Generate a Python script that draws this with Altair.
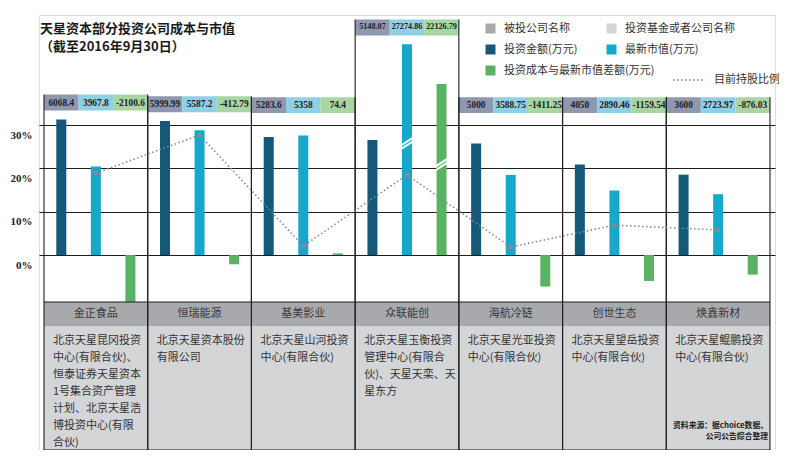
import altair as alt
import pandas as pd

# ---------------- data ----------------
companies = ["金正食品", "恒瑞能源", "基美影业", "众联能创", "海航冷链", "创世生态", "焕鑫新材"]
invest = [6068.4, 5999.99, 5283.6, 5148.07, 5000, 4050, 3600]
market = [3967.8, 5587.2, 5358, 27274.86, 3588.75, 2890.46, 2723.97]
diff = [-2100.6, -412.79, 74.4, 22126.79, -1411.25, -1159.54, -876.03]
holding = [18.9, 27.7, 2.1, 18.5, 1.85, 6.9, 5.8]
funds = [
    ["北京天星昆冈投资", "中心(有限合伙)、", "恒泰证券天星资本", "1号集合资产管理", "计划、北京天星浩", "博投资中心(有限", "合伙)"],
    ["北京天星资本股份", "有限公司"],
    ["北京天星山河投资", "中心(有限合伙)"],
    ["北京天星玉衡投资", "管理中心(有限合", "伙)、天星天栾、天", "星东方"],
    ["北京天星光亚投资", "中心(有限合伙)"],
    ["北京天星望岳投资", "中心(有限合伙)"],
    ["北京天星鲲鹏投资", "中心(有限合伙)"],
]
series_names = ["投资金额(万元)", "最新市值(万元)", "投资成本与最新市值差额(万元)"]
row_names = ["被投公司名称", "投资基金或者公司名称"]
line_name = "目前持股比例"
pct_ticks = [0, 10, 20, 30]
title_lines = ["天星资本部分投资公司成本与市值", "（截至2016年9月30日）"]
source_lines = ["资料来源：据choice数据、", "公司公告综合整理"]

# ---------------- layout / style ----------------
CJK = "Noto Sans CJK SC"
NUM = "Liberation Sans Narrow"
W, H = 736, 435
Y_TOP, Y_BOTTOM = 10750, -8730
PCT_UNIT = 194.0          # 万元 per 1 % on the shared axis
LIMIT, BREAK_K, BREAK_FRAC = 8000, 0.346, 0.53
BOX_BASE, BOX_H, BOX_GAP = 6356, 716, 400
HEADER_H = 1075
NCOL = len(companies)

bar_colors = ["#14587a", "#16a8cb", "#5ab365"]
box_colors = ["#8f98af", "#8fd0e5", "#a9d5a2"]
row_colors = ["#a8a9ad", "#d4d5d7"]

rows, cols = [], []
for i, c in enumerate(companies):
    vals = [invest[i], market[i], diff[i]]
    disp = [v if v <= LIMIT else v * BREAK_K for v in vals]
    bb = max(BOX_BASE, max(disp) + BOX_GAP)
    brk = any(v > LIMIT for v in vals)
    for j in range(3):
        rows.append(dict(company=c, series=series_names[j], j=j,
                         slot=3 * i + j + 0.5, x0=3 * i + j, x1=3 * i + j + 1,
                         value=vals[j], disp=disp[j], broken=vals[j] > LIMIT,
                         brk_y=disp[j] * BREAK_FRAC, zero=0,
                         label=str(vals[j]), bb=bb, bt=bb + BOX_H,
                         bm=bb + BOX_H / 2, small=brk))
    cols.append(dict(company=c, left=3 * i, right=3 * i + 3, center=3 * i + 1.5,
                     top=bb + BOX_H, fund="\n".join(funds[i]),
                     pct=holding[i] * PCT_UNIT, pslot=3 * i + 1.5,
                     lg1=row_names[0], lg2=row_names[1], s3=line_name))
df = pd.DataFrame(rows)
cdf = pd.DataFrame(cols)

chart_bottom = min(0, df["disp"].min())
header_bottom = chart_bottom - HEADER_H
cdf["hy1"] = chart_bottom
cdf["hy2"] = header_bottom
cdf["cy2"] = Y_BOTTOM
cdf["ybot"] = Y_BOTTOM
cdf["hmid"] = (chart_bottom + header_bottom) / 2

hl = pd.DataFrame(dict(y=[chart_bottom, Y_BOTTOM], xa=[0, 0], xb=[3 * NCOL, 3 * NCOL]))
src = pd.DataFrame(dict(x=[3 * NCOL], y=[Y_BOTTOM], t=["\n".join(source_lines)]))

XS = alt.Scale(domain=[0, 3 * NCOL], nice=False, zero=False)
YS = alt.Scale(domain=[Y_BOTTOM, Y_TOP], nice=False, zero=False)
Y_AX = alt.Axis(values=[v * PCT_UNIT for v in pct_ticks],
                labelExpr=f"format(datum.value/{PCT_UNIT}, 'd') + '%'",
                grid=True, gridColor="#1e1e1e", gridWidth=1.1,
                domain=False, ticks=False, title=None,
                labelFont=NUM, labelFontWeight="bold", labelFontSize=11,
                labelColor="#222", labelPadding=7, labelBaseline="middle", labelOffset=10)


def X(f):
    return alt.X(f, type="quantitative", scale=XS, axis=None)


def Y(f):
    return alt.Y(f, type="quantitative", scale=YS, axis=Y_AX)


LEG = dict(orient="none", title=None, symbolType="square", symbolSize=100,
           symbolStrokeWidth=0, labelFont=CJK, labelFontSize=11, labelColor="#333",
           rowPadding=9, labelOffset=8, padding=0)
CS = alt.Scale(domain=[row_names[0], series_names[0], series_names[2]],
               range=[row_colors[0], bar_colors[0], bar_colors[2]])
FS = alt.Scale(domain=[row_names[1], series_names[1]], range=[row_colors[1], bar_colors[1]])
L1 = alt.Legend(legendX=446, legendY=8, **LEG)
L2 = alt.Legend(legendX=567, legendY=8, **LEG)

layers = []
# table rows
layers.append(alt.Chart(cdf).mark_rect().encode(
    x=X("left"), x2="right", y=Y("hy1"), y2="hy2",
    color=alt.Color("lg1:N", scale=CS, legend=L1)))
layers.append(alt.Chart(cdf).mark_rect().encode(
    x=X("left"), x2="right", y=Y("hy2"), y2="cy2",
    fill=alt.Fill("lg2:N", scale=FS, legend=L2)))
# value boxes
for j in range(3):
    layers.append(alt.Chart(df[df.j == j]).mark_rect(color=box_colors[j]).encode(
        x=X("x0"), x2="x1", y=Y("bb"), y2="bt"))
# bars
layers.append(alt.Chart(df[df.j != 1]).mark_bar(size=10).encode(
    x=X("slot"), y=Y("disp"), y2="zero",
    color=alt.Color("series:N", scale=CS, legend=L1)))
layers.append(alt.Chart(df[df.j == 1]).mark_bar(size=10).encode(
    x=X("slot"), y=Y("disp"), y2="zero",
    fill=alt.Fill("series:N", scale=FS, legend=L2)))
# axis breaks
layers.append(alt.Chart(df[df.broken]).mark_point(
    shape="M-1,0.35L1,-0.95M-1,0.95L1,-0.35", size=150, stroke="white",
    strokeWidth=2, filled=False, opacity=1).encode(x=X("slot"), y=Y("brk_y")))
# column borders
for edge in ["left", "right"]:
    layers.append(alt.Chart(cdf).mark_rule(color="#1e1e1e", strokeWidth=1.1).encode(
        x=X(edge), y=Y("top"), y2="ybot"))
layers.append(alt.Chart(hl).mark_rule(color="#1e1e1e", strokeWidth=1.1).encode(
    x=X("xa"), x2="xb", y=Y("y")))
# box labels
layers.append(alt.Chart(df).mark_text(font=NUM, fontWeight="bold", color="#222",
                                      baseline="middle").encode(
    x=X("slot"), y=Y("bm"), text="label:N",
    size=alt.condition("datum.small", alt.value(8.2), alt.value(9.4))))
# table texts
layers.append(alt.Chart(cdf).mark_text(font=CJK, fontSize=11, color="#3a3a3a",
                                       baseline="middle").encode(
    x=X("center"), y=Y("hmid"), text="company:N"))
layers.append(alt.Chart(cdf).mark_text(font=CJK, fontSize=11, color="#333", align="left",
                                       baseline="top", lineBreak="\n", lineHeight=17,
                                       dx=9, dy=9).encode(
    x=X("left"), y=Y("hy2"), text="fund:N"))
# holding ratio line
layers.append(alt.Chart(cdf).mark_line(color="#8a8a8a", strokeWidth=1.6).encode(
    x=X("pslot"), y=Y("pct"),
    strokeDash=alt.StrokeDash("s3:N", scale=alt.Scale(domain=[line_name], range=[[1.5, 2.5]]),
                              legend=alt.Legend(orient="none", legendX=633, legendY=48, title=None,
                                                symbolType="stroke", symbolSize=1024,
                                                symbolStrokeColor="#888", symbolStrokeWidth=1.5,
                                                labelFont=CJK, labelFontSize=11, labelColor="#333",
                                                labelOffset=8, padding=0))))
layers.append(alt.Chart(cdf).mark_point(filled=True, shape="square", size=16,
                                        color="#8e8794", opacity=1).encode(
    x=X("pslot"), y=Y("pct")))
# source note
layers.append(alt.Chart(src).mark_text(font=CJK, fontSize=7.8, fontWeight="bold", color="#222",
                                       align="right", baseline="top", lineBreak="\n",
                                       lineHeight=10.5, dx=-2, dy=-28).encode(
    x=X("x"), y=Y("y"), text="t:N"))

chart = alt.layer(*layers).properties(
    width=W, height=H,
    autosize=alt.AutoSizeParams(type="none"),
    padding={"left": 31, "top": 7, "right": 4, "bottom": 0},
    title=alt.TitleParams(text=title_lines, anchor="start", font=CJK, fontSize=13,
                          fontWeight="bold", color="#1a1a1a", lineHeight=18,
                          baseline="top", offset=0, dy=39, dx=1, frame="group"),
).configure_view(stroke=None).configure(font=CJK)

chart.save("out.html", embed_options={"renderer": "svg", "actions": False})
